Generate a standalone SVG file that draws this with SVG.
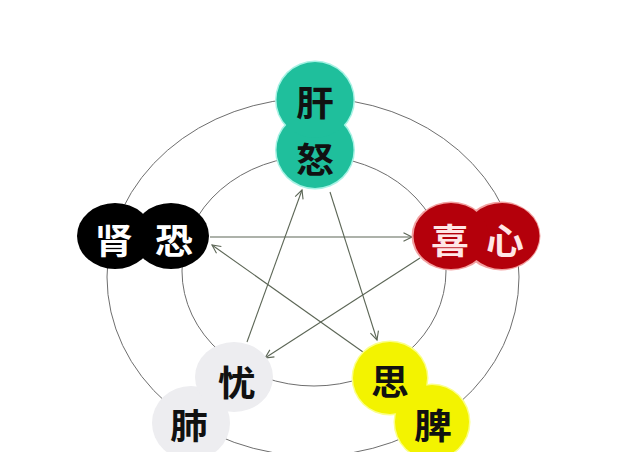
<svg xmlns="http://www.w3.org/2000/svg" width="630" height="452" viewBox="0 0 630 452">
  <defs>
    <style>
      .ring { fill: none; stroke: #6e6e6e; stroke-width: 1; }
      .arrow { fill: none; stroke: #5c6656; stroke-width: 1.1; marker-end: url(#arr); }
      .lbl { font-family: "Noto Sans CJK SC", "Noto Sans", sans-serif; font-weight: 700; font-size: 35px; text-anchor: middle; dominant-baseline: central; }
      .dark { fill: #111111; }
      .white { fill: #ffffff; }
      .pink { fill: #ffe6e6; }
      .green { fill: #1fbf9c; }
      .red { fill: #b4000b; }
      .black { fill: #000000; }
      .gray { fill: #ededf0; }
      .yellow { fill: #f3f300; }
    </style>
    <marker id="arr" markerWidth="12" markerHeight="12" refX="10" refY="6" orient="auto" markerUnits="userSpaceOnUse">
      <path d="M1.5,1.8 L10,6 L1.5,10.2" fill="none" stroke="#5c6656" stroke-width="1.1"/>
    </marker>
  </defs>
  <rect width="630" height="452" fill="#ffffff"/>

  <g id="rings">
    <ellipse class="ring" cx="313" cy="277" rx="206" ry="179"/>
    <ellipse class="ring" cx="314" cy="271" rx="132" ry="115"/>
  </g>

  <g id="connectors">
    <line class="arrow" x1="210" y1="237" x2="412" y2="237"/>
    <line class="arrow" x1="420" y1="258" x2="265" y2="358"/>
    <line class="arrow" x1="247" y1="342" x2="302" y2="190"/>
    <line class="arrow" x1="330" y1="192" x2="377" y2="340"/>
    <line class="arrow" x1="363" y1="352" x2="212" y2="245"/>
  </g>

  <g id="halos">
    <ellipse cx="315" cy="100" rx="40" ry="39.5" fill="#a6f2e4"/>
    <ellipse cx="315" cy="150" rx="40" ry="39.5" fill="#a6f2e4"/>
    <ellipse cx="451" cy="236" rx="39.5" ry="34.5" fill="#f2a0a0"/>
    <ellipse cx="501" cy="236" rx="39.5" ry="34.5" fill="#f2a0a0"/>
    <ellipse cx="390" cy="378" rx="38.5" ry="37.5" fill="#fbff8a"/>
    <ellipse cx="432" cy="422" rx="38.5" ry="38.5" fill="#fbff8a"/>
  </g>

  <g id="node-nu">
    <ellipse class="green" cx="315" cy="150" rx="38.5" ry="38"/>
    <text class="lbl dark" transform="translate(315,158) scale(1.08,1)">怒</text>
  </g>
  <g id="node-gan">
    <ellipse class="green" cx="315" cy="100" rx="38.5" ry="38"/>
    <text class="lbl dark" transform="translate(315,101) scale(1.08,1)">肝</text>
  </g>

  <g id="node-shen">
    <ellipse class="black" cx="115" cy="236" rx="38" ry="33"/>
    <text class="lbl white" transform="translate(114,239) scale(1.08,1)">肾</text>
  </g>
  <g id="node-kong">
    <ellipse class="black" cx="171" cy="236" rx="38" ry="33"/>
    <text class="lbl white" transform="translate(174,239) scale(1.08,1)">恐</text>
  </g>

  <g id="node-xin">
    <ellipse class="red" cx="502" cy="236" rx="37.5" ry="33"/>
    <text class="lbl pink" transform="translate(505,239) scale(1.08,1)">心</text>
  </g>
  <g id="node-xi">
    <ellipse class="red" cx="451" cy="236" rx="37.5" ry="33"/>
    <text class="lbl pink" transform="translate(450,239) scale(1.08,1)">喜</text>
  </g>

  <g id="node-fei">
    <ellipse class="gray" cx="191" cy="423" rx="39" ry="37"/>
    <text class="lbl dark" transform="translate(189,424) scale(1.08,1)">肺</text>
  </g>
  <g id="node-you">
    <ellipse class="gray" cx="234" cy="377" rx="39" ry="35"/>
    <text class="lbl dark" transform="translate(237,381) scale(1.08,1)">忧</text>
  </g>

  <g id="node-pi">
    <ellipse class="yellow" cx="432" cy="422" rx="37" ry="37"/>
    <text class="lbl dark" transform="translate(433,424) scale(1.08,1)">脾</text>
  </g>
  <g id="node-si">
    <ellipse class="yellow" cx="390" cy="378" rx="37" ry="36"/>
    <text class="lbl dark" transform="translate(390,380) scale(1.08,1)">思</text>
  </g>
</svg>
